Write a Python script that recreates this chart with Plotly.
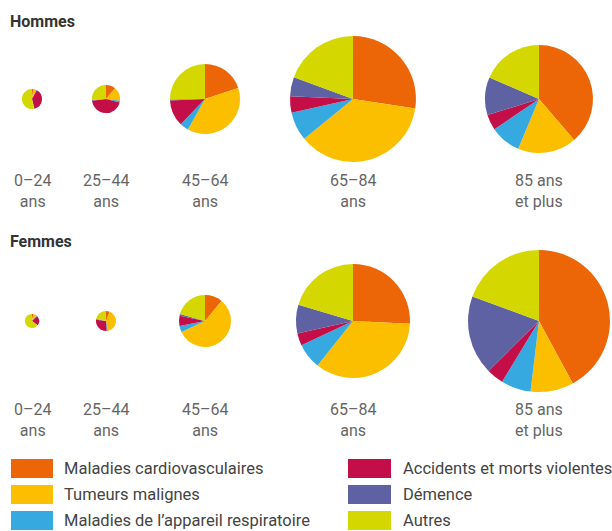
import math
import plotly.graph_objects as go

W, H = 612, 531

causes = ["Maladies cardiovasculaires", "Tumeurs malignes", "Maladies de l’appareil respiratoire",
          "Accidents et morts violentes", "Démence", "Autres"]
colors = ["#EC6608", "#FCBF00", "#36A9E1", "#C30E48", "#5E62A3", "#D4D800"]

age_groups = ["0–24<br>ans", "25–44<br>ans", "45–64<br>ans", "65–84<br>ans", "85 ans<br>et plus"]

# shares (%) per age group, order = causes
hommes_shares = [
    [2, 5, 1, 38, 0.5, 53.5],
    [11, 16, 2, 44, 1, 26],
    [19.9, 38.2, 4.1, 12.1, 0.5, 25.2],
    [27.4, 36.7, 7.4, 4.2, 4.9, 19.4],
    [38.7, 17.6, 9.2, 4.7, 11.3, 18.5],
]
femmes_shares = [
    [3, 9, 1, 22, 0.5, 64.5],
    [6, 41, 2, 28, 1, 22],
    [11, 57, 3.9, 6.4, 1, 20.7],
    [25.8, 34.9, 7.3, 3.5, 8.1, 20.4],
    [42.1, 9.8, 6.8, 3.9, 18, 19.4],
]
# total deaths per age group (pie area proportional)
hommes_totals = [300, 590, 3650, 11800, 8680]
femmes_totals = [150, 300, 2010, 9670, 15000]

col_x = [32, 106, 205, 353, 539]
row_y = {"Hommes": 99, "Femmes": 321}
r_max = 71
k = r_max / math.sqrt(max(max(hommes_totals), max(femmes_totals)))

fig = go.Figure()
annotations = []
shapes = []

for sex, shares, totals, ty, ly in [
    ("Hommes", hommes_shares, hommes_totals, 22, 191),
    ("Femmes", femmes_shares, femmes_totals, 241, 420),
]:
    cy = row_y[sex]
    annotations.append(dict(text="<b>" + sex + "</b>", x=9 / W, y=1 - ty / H, xref="paper", yref="paper",
                            xanchor="left", yanchor="middle", showarrow=False, borderpad=0,
                            font=dict(family="Roboto", size=16, color="#333333")))
    for i, (sh, tot) in enumerate(zip(shares, totals)):
        cx = col_x[i]
        r = k * math.sqrt(tot)
        fig.add_trace(go.Pie(
            values=sh, labels=causes, sort=False, direction="clockwise", rotation=0,
            marker=dict(colors=colors, line=dict(width=0)), textinfo="none", hoverinfo="label+percent",
            showlegend=False,
            domain=dict(x=[(cx - r) / W, (cx + r) / W], y=[1 - (cy + r) / H, 1 - (cy - r) / H]),
        ))
        annotations.append(dict(text=age_groups[i], x=cx / W, y=1 - ly / H, xref="paper", yref="paper",
                                xanchor="center", yanchor="middle", showarrow=False, align="center",
                                font=dict(family="Roboto", size=16, color="#666666")))

# legend
leg_rows = [468.5, 494.5, 520.5]
for j, (name, col) in enumerate(zip(causes, colors)):
    c = j // 3
    rr = j % 3
    x0 = [11, 348][c]
    x1 = [53, 391][c]
    tx = [63, 402][c]
    yc = leg_rows[rr]
    shapes.append(dict(type="rect", xref="paper", yref="paper", x0=x0 / W, x1=x1 / W,
                       y0=1 - (yc + 9.5) / H, y1=1 - (yc - 9.5) / H, fillcolor=col, line=dict(width=0)))
    annotations.append(dict(text=name, x=tx / W, y=1 - yc / H, xref="paper", yref="paper",
                            xanchor="left", yanchor="middle", showarrow=False, borderpad=0,
                            font=dict(family="Roboto", size=16.5, color="#444444")))

fig.update_layout(width=W, height=H, margin=dict(l=0, r=0, t=0, b=0),
                  paper_bgcolor="white", plot_bgcolor="white",
                  annotations=annotations, shapes=shapes)
fig.write_html("out.html")
